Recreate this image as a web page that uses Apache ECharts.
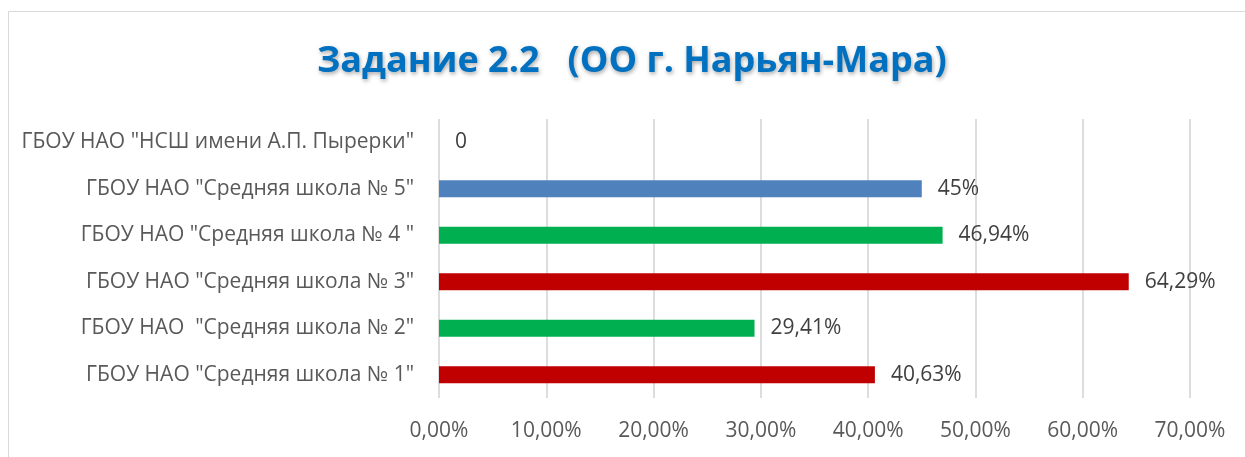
<!DOCTYPE html>
<html>
<head>
<meta charset="utf-8">
<script src="https://cdn.jsdelivr.net/npm/echarts@6/dist/echarts.min.js"></script>
<style>
  html, body { margin: 0; padding: 0; background: #fff; }
  #chart { width: 1245px; height: 457px; }
</style>
</head>
<body>
<div id="chart"></div>
<script>
// schools, bottom to top as on the axis
const schools = [
  'ГБОУ НАО "Средняя школа № 1"',
  'ГБОУ НАО  "Средняя школа № 2"',
  'ГБОУ НАО "Средняя школа № 3"',
  'ГБОУ НАО "Средняя школа № 4 "',
  'ГБОУ НАО "Средняя школа № 5"',
  'ГБОУ НАО "НСШ имени А.П. Пырерки"'
];
const percents = [40.63, 29.41, 64.29, 46.94, 45, 0];
const barColors = ['#C00000', '#00B050', '#C00000', '#00B050', '#4F81BD', '#4F81BD'];
const axisMax = 70;
const axisStep = 10;

const chart = echarts.init(document.getElementById('chart'));
const font = '"Open Sans", "Noto Sans", sans-serif';

chart.setOption({
  animation: false,
  title: {
    text: 'Задание 2.2   (ОО г. Нарьян-Мара)',
    left: 312,
    top: 39,
    textStyle: {
      fontFamily: font,
      fontSize: 36,
      fontWeight: 'bold',
      color: '#0070C0',
      textShadowColor: 'rgba(0,0,0,0.35)',
      textShadowBlur: 4,
      textShadowOffsetX: 1,
      textShadowOffsetY: 2
    }
  },
  graphic: [{
    type: 'rect',
    shape: { x: 8.5, y: 11.5, width: 1245, height: 460 },
    style: { fill: 'none', stroke: '#D9D9D9', lineWidth: 1 },
    silent: true
  }],
  grid: { left: 439, right: 55, top: 119, bottom: 59 },
  xAxis: {
    type: 'value',
    min: 0,
    max: axisMax,
    interval: axisStep,
    axisLine: { show: false },
    axisTick: { show: false },
    splitLine: { lineStyle: { color: '#DDDDDD', width: 2 } },
    axisLabel: {
      color: '#595959',
      fontFamily: font,
      fontSize: 21,
      margin: 23,
      formatter: v => v.toFixed(2).replace('.', ',') + '%'
    }
  },
  yAxis: {
    type: 'category',
    data: schools,
    axisLine: { show: false },
    axisTick: { show: false },
    axisLabel: {
      color: '#595959',
      fontFamily: font,
      fontSize: 21,
      margin: 25
    }
  },
  series: [{
    type: 'bar',
    barWidth: 17,
    data: percents.map((v, i) => ({ value: v, itemStyle: { color: barColors[i] } })),
    label: {
      show: true,
      position: 'right',
      distance: 16,
      color: '#404040',
      fontFamily: font,
      fontSize: 21,
      formatter: p => p.value === 0 ? '0' : String(p.value).replace('.', ',') + '%'
    }
  }]
});
</script>
</body>
</html>
